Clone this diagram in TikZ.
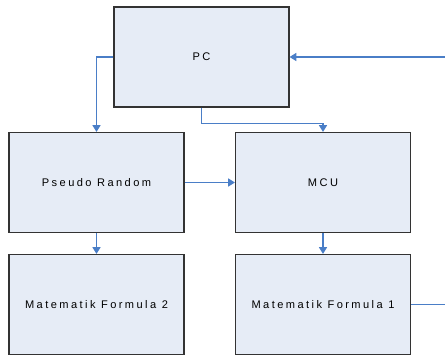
\documentclass[tikz,border=0pt]{standalone}
\usepackage{fontspec}
\setmainfont{Liberation Sans}[LetterSpace=22]
\usetikzlibrary{arrows.meta,positioning}
\definecolor{BoxFill}{HTML}{E6ECF6}
\definecolor{BoxLine}{HTML}{333333}
\definecolor{FlowBlue}{HTML}{4A7EC7}

\begin{document}
\begin{tikzpicture}[x=0.75pt,y=-0.75pt,
    block/.style={draw=BoxLine,fill=BoxFill,line width=0.9pt,minimum width=131.25pt,
      minimum height=75pt,inner sep=0pt,font=\fontsize{8.3}{10}\selectfont},
    flow/.style={FlowBlue,line width=0.8pt,-{Triangle[width=6pt,length=5pt]}}]
    \useasboundingbox (0,0) rectangle (445,356);
    \node[block] (pc) at (201.5,57) {PC};
    \node[block] (rnd) at (96.5,182.5) {Pseudo Random};
    \node[block] (mcu) at (323,182.5) {MCU};
    \node[block] (mf2) at (96.5,304.5) {Matematik Formula 2};
    \node[block] (mf1) at (323,304.5) {Matematik Formula 1};
    \coordinate (loopin) at (445,57);
    \coordinate (loopout) at (445,304.5);
    \draw[flow] (pc.west) -| (rnd.north);
    \draw[flow] (pc.south) -- ++(0,16) -| (mcu.north);
    \draw[flow] (rnd.east) -- (mcu.west);
    \draw[flow] (rnd.south) -- (mf2.north);
    \draw[flow] (mcu.south) -- (mf1.north);
    \draw[FlowBlue,line width=0.8pt] (mf1.east) -- (loopout);
    \draw[flow] (loopin) -- (pc.east);
\end{tikzpicture}
\end{document}
